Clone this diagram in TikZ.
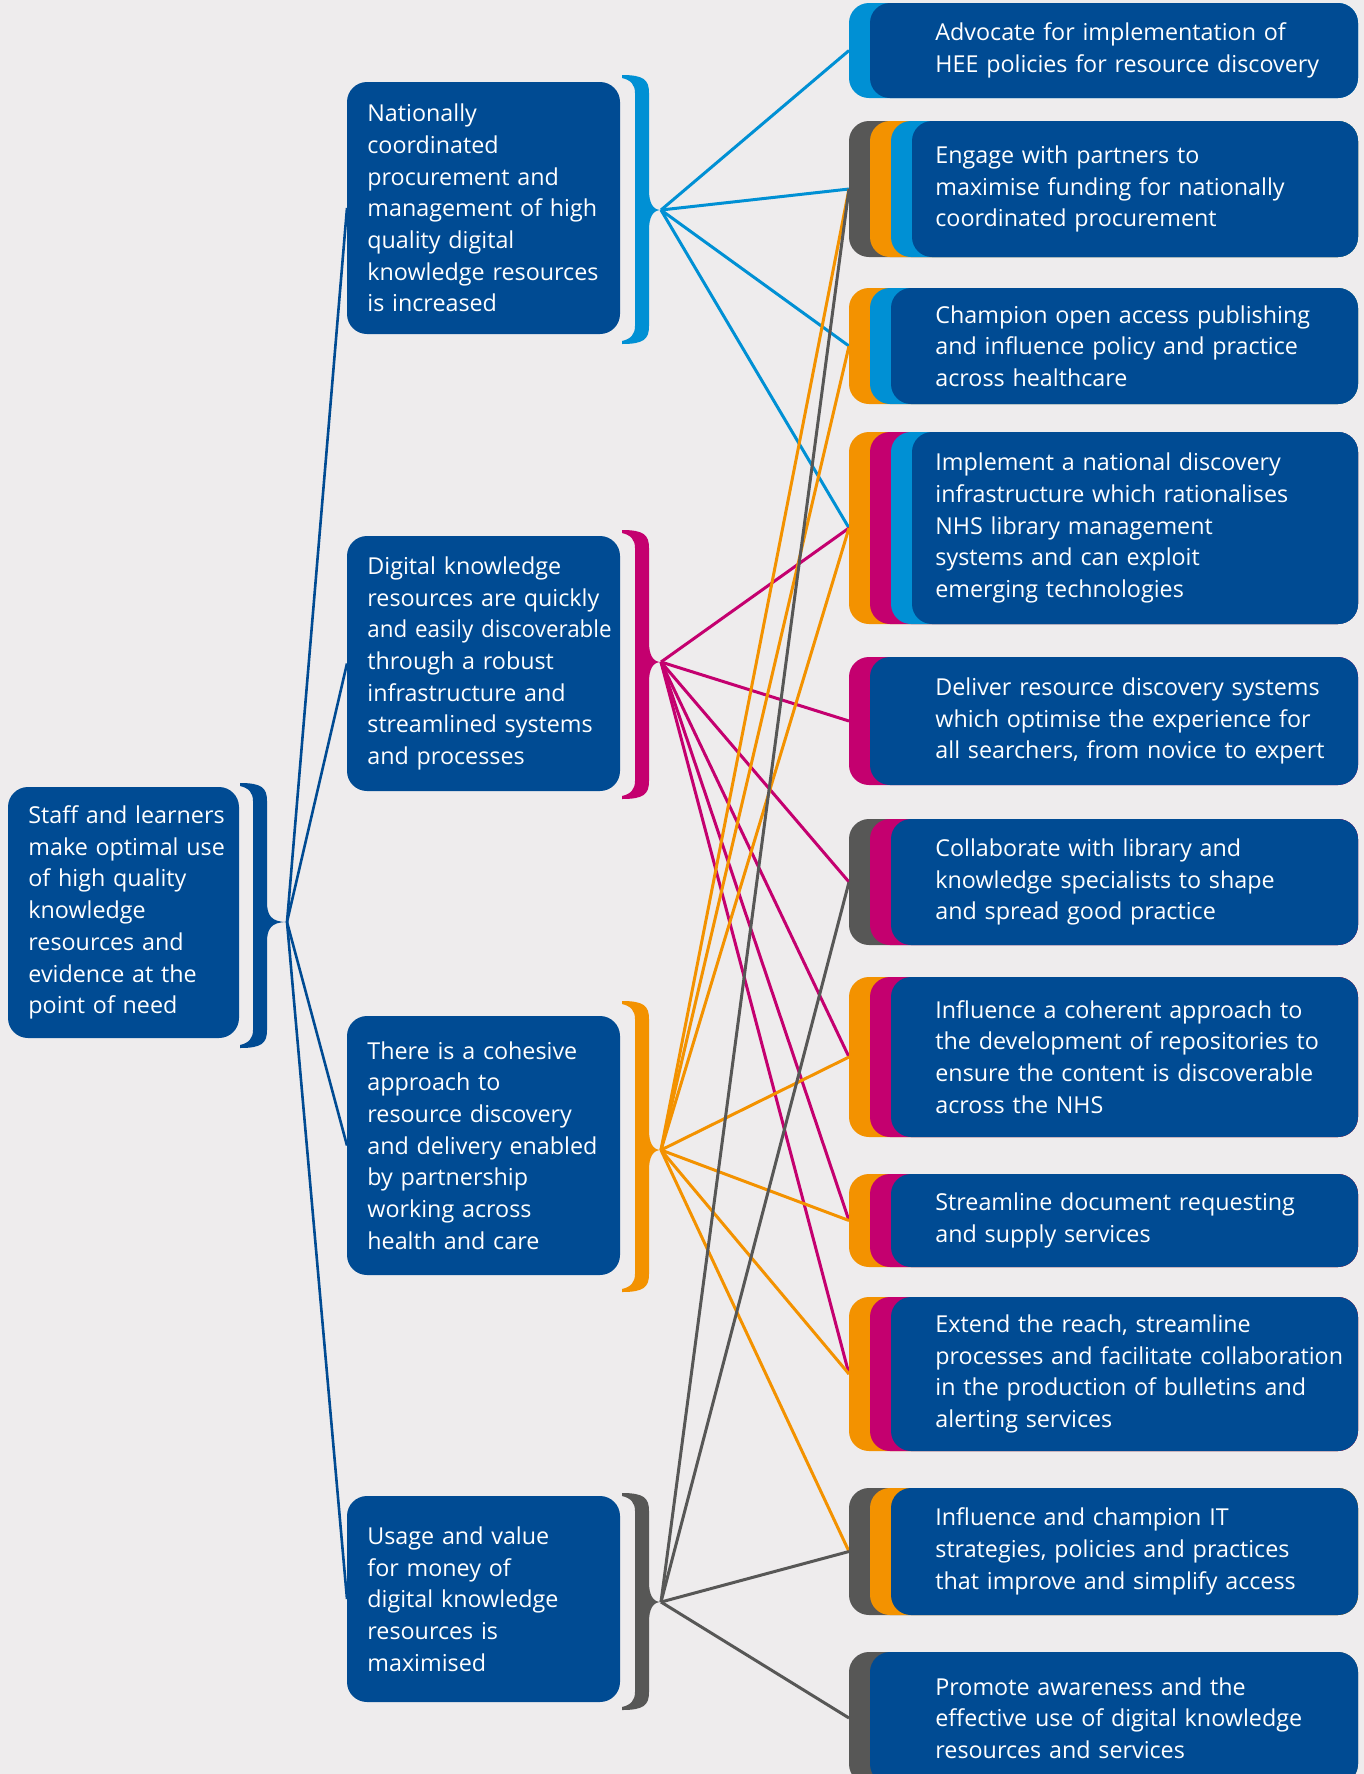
\documentclass[tikz,border=0pt]{standalone}
\usepackage{fontspec}
\setmainfont{Open Sans}
\definecolor{backGrey}{RGB}{238,236,237}
\definecolor{nhsBlue}{RGB}{0,75,147}
\definecolor{aimBlue}{RGB}{0,144,212}
\definecolor{aimPink}{RGB}{196,0,111}
\definecolor{aimOrange}{RGB}{243,146,0}
\definecolor{aimGrey}{RGB}{87,87,86}
\pgfdeclarelayer{backdrop}
\pgfdeclarelayer{background}
\pgfsetlayers{backdrop,background,main}
\tikzset{
    strategyDiagram/.style={
        frame/.style={
            rectangle,
            inner sep=0pt,
            outer sep=0pt,
            anchor=north west,
        },
        panel/.style={
            frame,
            fill=nhsBlue,
            rounded corners=10pt,
        },
        boxText/.style={
            text=white,
            anchor=west,
            align=left,
            inner sep=0pt,
            font=\fontsize{11.65pt}{15.85pt}\selectfont,
        },
        link/.style={
            line width=1.5pt,
        },
        trunk/.style={
            draw=nhsBlue,
            line width=1.3pt,
        },
    }
}

% curly bracket, the tip is left as a named coordinate
\newcommand{\aimBrace}[7]{%
    \fill[#1] (#2,#3) .. controls ({#2+22},#3) and ({#2+27},{#3+5}) .. ({#2+27},{#3+18})
        -- ({#2+27},{#5-20}) .. controls ({#2+27},{#5-7}) and ({#2+31},#5) .. ({#2+27+#6},#5)
        .. controls ({#2+31},#5) and ({#2+27},{#5+7}) .. ({#2+27},{#5+20})
        -- ({#2+27},{#4-18}) .. controls ({#2+27},{#4-5}) and ({#2+22},#4) .. (#2,#4)
        -- (#2,{#4-3}) .. controls ({#2+9},{#4-5}) and ({#2+13},{#4-10}) .. ({#2+13},{#4-18})
        -- ({#2+13},{#3+18}) .. controls ({#2+13},{#3+10}) and ({#2+9},{#3+5}) .. (#2,{#3+3})
        -- cycle;
    \coordinate (#7) at ({#2+27+#6},#5);
}

% stack of coloured tabs with the action text
\newcommand{\actionBox}[5]{%
    \node[frame, minimum width=254.5pt, minimum height={(#3-#2)*0.5pt}] (#1) at (849,#2) {};
    \foreach \col [count=\i from 0] in {#4}
        \fill[\col, rounded corners=10pt] ({849+21*\i},#2) rectangle (1358,#3);
    \node[boxText, text width=240pt] (#1_text) at (935,{(#2+#3)/2}) {#5};
}

\begin{document}
\begin{tikzpicture}[strategyDiagram, x=0.5pt, y=-0.5pt]
    \useasboundingbox (0,0) rectangle (1364,1774);
    \begin{pgfonlayer}{backdrop}
        \fill[backGrey] (0,0) rectangle (1364,1774);
    \end{pgfonlayer}
    \clip (0,0) rectangle (1364,1774);

    % goal
    \node[panel, minimum width=115.5pt, minimum height=125.5pt] (goal) at (8,787) {};
    \node[boxText, text width=130pt] (goal_text) at (28,912.5) {Staff and learners\\make optimal use\\of high quality\\knowledge\\resources and\\evidence at the\\point of need};
    \aimBrace{nhsBlue}{240}{783}{1048}{922}{20}{goal_tip}

    % aims
    \node[panel, minimum width=136.5pt, minimum height=126pt] (aim_1) at (347,82) {};
    \node[boxText, text width=160pt] (aim_1_text) at (367,208) {Nationally\\coordinated\\procurement and\\management of high\\quality digital\\knowledge resources\\is increased};
    \aimBrace{aimBlue}{622}{75}{344}{210}{12}{aim_1_tip}

    \node[panel, minimum width=136.5pt, minimum height=127.5pt] (aim_2) at (347,536) {};
    \node[boxText, text width=160pt] (aim_2_text) at (367,663.5) {Digital knowledge\\resources are quickly\\{\addfontfeatures{FakeStretch=0.96}and easily discoverable}\\through a robust\\infrastructure and\\streamlined systems\\and processes};
    \aimBrace{aimPink}{622}{530}{799}{662}{12}{aim_2_tip}

    \node[panel, minimum width=136.5pt, minimum height=129.5pt] (aim_3) at (347,1016) {};
    \node[boxText, text width=160pt] (aim_3_text) at (367,1145.5) {There is a cohesive\\approach to\\resource discovery\\and delivery enabled\\by partnership\\working across\\health and care};
    \aimBrace{aimOrange}{622}{1001}{1292}{1150}{12}{aim_3_tip}

    \node[panel, minimum width=136.5pt, minimum height=103pt] (aim_4) at (347,1496) {};
    \node[boxText, text width=160pt] (aim_4_text) at (367,1599) {Usage and value\\for money of\\digital knowledge\\resources is\\maximised};
    \aimBrace{aimGrey}{622}{1493}{1710}{1602}{12}{aim_4_tip}

    % actions
    \actionBox{act_1}{3}{98}{aimBlue,nhsBlue}{Advocate for implementation of\\HEE policies for resource discovery}
    \actionBox{act_2}{121}{257}{aimGrey,aimOrange,aimBlue,nhsBlue}{Engage with partners to\\maximise funding for nationally\\coordinated procurement}
    \actionBox{act_3}{288}{404}{aimOrange,aimBlue,nhsBlue}{Champion open access publishing\\and influence policy and practice\\across healthcare}
    \actionBox{act_4}{432}{624}{aimOrange,aimPink,aimBlue,nhsBlue}{Implement a national discovery\\infrastructure which rationalises\\NHS library management\\systems and can exploit\\emerging technologies}
    \actionBox{act_5}{657}{785}{aimPink,nhsBlue}{Deliver resource discovery systems\\which optimise the experience for\\all searchers, from novice to expert}
    \actionBox{act_6}{819}{945}{aimGrey,aimPink,nhsBlue}{Collaborate with library and\\knowledge specialists to shape\\and spread good practice}
    \actionBox{act_7}{977}{1137}{aimOrange,aimPink,nhsBlue}{Influence a coherent approach to\\the development of repositories to\\ensure the content is discoverable\\across the NHS}
    \actionBox{act_8}{1174}{1267}{aimOrange,aimPink,nhsBlue}{Streamline document requesting\\and supply services}
    \actionBox{act_9}{1297}{1451}{aimOrange,aimPink,nhsBlue}{Extend the reach, streamline\\processes and facilitate collaboration\\in the production of bulletins and\\alerting services}
    \actionBox{act_10}{1488}{1615}{aimGrey,aimOrange,nhsBlue}{Influence and champion IT\\strategies, policies and practices\\that improve and simplify access}
    \actionBox{act_11}{1652}{1784}{aimGrey,nhsBlue}{Promote awareness and the\\effective use of digital knowledge\\resources and services}

    % connectors
    \begin{pgfonlayer}{background}
        \foreach \t in {aim_1,aim_2,aim_3,aim_4}
            \path[trunk] (goal_tip) edge (\t.west);
        \foreach \t in {act_1,act_2,act_3,act_4}
            \draw[link, aimBlue] (aim_1_tip) -- (\t.west);
        \foreach \t in {act_4,act_5,act_6,act_7,act_8,act_9}
            \draw[link, aimPink] (aim_2_tip) -- (\t.west);
        \foreach \t in {act_2,act_3,act_4,act_7,act_8,act_9,act_10}
            \draw[link, aimOrange] (aim_3_tip) -- (\t.west);
        \foreach \t in {act_2,act_6,act_10,act_11}
            \draw[link, aimGrey] (aim_4_tip) -- (\t.west);
    \end{pgfonlayer}
\end{tikzpicture}
\end{document}
